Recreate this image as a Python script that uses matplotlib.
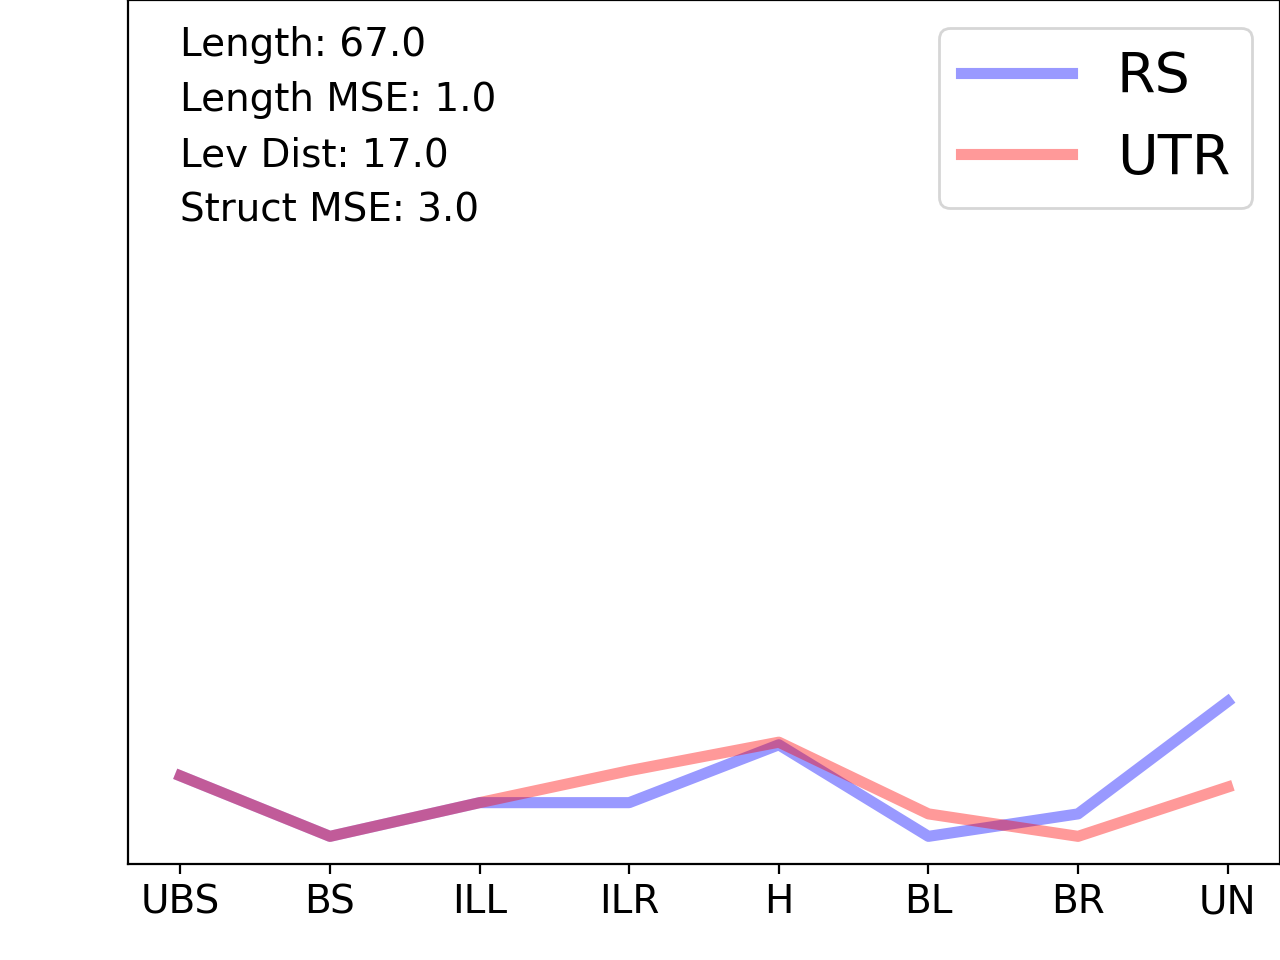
import matplotlib
matplotlib.use("Agg")
import matplotlib.pyplot as plt

categories = ["UBS", "BS", "ILL", "ILR", "H", "BL", "BR", "UN"]
rs_values = [10.2, 3.2, 7.1, 7.1, 13.8, 3.2, 5.8, 18.8]
utr_values = [10.2, 3.2, 7.1, 10.8, 14.1, 5.8, 3.2, 8.9]
stats = ["Length: 67.0", "Length MSE: 1.0", "Lev Dist: 17.0", "Struct MSE: 3.0"]

fig = plt.figure(figsize=(6.4, 4.8), dpi=200)
ax = fig.add_axes([0.1, 0.1, 0.9, 0.9])

x = range(len(categories))
ax.plot(x, rs_values, color="b", alpha=0.4, linewidth=4, label="RS")
ax.plot(x, utr_values, color="r", alpha=0.4, linewidth=4, label="UTR")

ax.set_ylim(0, 100)
ax.set_yticks([])
ax.set_xticks(list(x))
ax.set_xticklabels(categories, fontsize=14)

# stats block in the top left corner
for i, s in enumerate(stats):
    ax.text(0.045, 0.948 - i * 0.064, s, transform=ax.transAxes,
            fontsize=14, va="center", ha="left")

ax.legend(loc="upper right", fontsize=20)

fig.savefig("out.png", dpi=200)
